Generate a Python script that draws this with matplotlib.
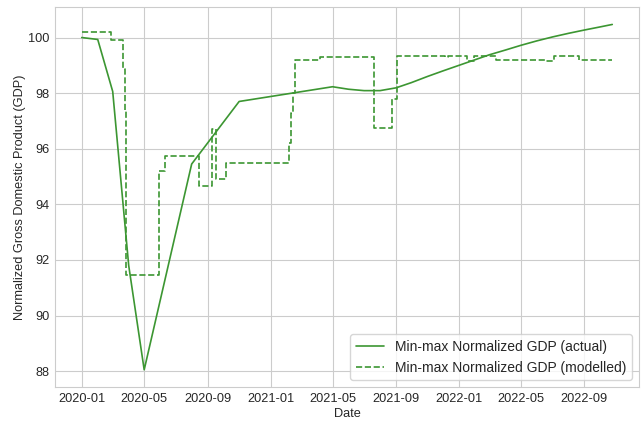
import numpy as np
import pandas as pd
import matplotlib
matplotlib.use("Agg")
import matplotlib.pyplot as plt
import seaborn as sns

# actual GDP (normalized)
actual_dates = ["2020-01-01", "2020-02-01", "2020-03-01", "2020-04-01", "2020-05-01",
                "2020-08-01", "2020-11-01", "2021-05-01", "2021-06-01", "2021-07-01",
                "2021-08-01", "2021-09-01", "2021-10-01", "2021-11-01", "2021-12-01",
                "2022-01-01", "2022-02-01", "2022-03-01", "2022-04-01", "2022-05-01",
                "2022-06-01", "2022-07-01", "2022-08-01", "2022-09-01", "2022-10-01",
                "2022-10-25"]
actual_values = [100.0, 99.93, 98.06, 91.8, 88.05,
                 95.45, 97.7, 98.23, 98.14, 98.09,
                 98.09, 98.19, 98.38, 98.6, 98.8,
                 99.0, 99.2, 99.38, 99.55, 99.72,
                 99.88, 100.02, 100.15, 100.27, 100.38,
                 100.47]

# modelled GDP, step changes
model_dates = ["2020-01-01", "2020-02-26", "2020-03-20", "2020-03-24", "2020-03-27",
               "2020-05-29", "2020-06-10", "2020-08-16", "2020-09-09", "2020-09-18",
               "2020-10-06", "2021-02-05", "2021-02-10", "2021-02-14", "2021-02-18",
               "2021-04-06", "2021-07-21", "2021-08-25", "2021-09-02", "2021-12-04",
               "2021-12-10", "2022-01-17", "2022-01-31", "2022-03-13", "2022-06-19",
               "2022-07-05", "2022-08-22", "2022-10-25"]
model_values = [100.2, 99.9, 98.85, 97.4, 91.45,
                95.2, 95.75, 94.65, 96.7, 94.9,
                95.5, 96.2, 97.3, 98.0, 99.2,
                99.3, 96.75, 97.8, 99.35, 99.3,
                99.35, 99.15, 99.35, 99.2, 99.15,
                99.35, 99.2, 99.2]

sns.set_style("whitegrid")
plt.rcParams['font.family'] = ['Liberation Sans', 'DejaVu Sans']

fig, ax = plt.subplots(figsize=(6.42, 4.23), dpi=100)
line_color = '#3c9632'

ax.plot(pd.to_datetime(actual_dates), actual_values, color=line_color, linewidth=1.2,
        label='Min-max Normalized GDP (actual)')
ax.plot(pd.to_datetime(model_dates), model_values, color=line_color, linewidth=1.2,
        linestyle='--', drawstyle='steps-post', label='Min-max Normalized GDP (modelled)')

ax.set_xlabel('Date', fontsize=9.2, labelpad=2.5)
ax.set_ylabel('Normalized Gross Domestic Product (GDP)', fontsize=9.2, labelpad=2)
ax.tick_params(labelsize=9.2, length=0, pad=4)
ax.set_yticks([88, 90, 92, 94, 96, 98, 100])
ax.legend(loc='lower right', fontsize=10)

fig.subplots_adjust(left=0.086, right=0.995, top=0.983, bottom=0.085)
fig.savefig('out.png', dpi=100)
